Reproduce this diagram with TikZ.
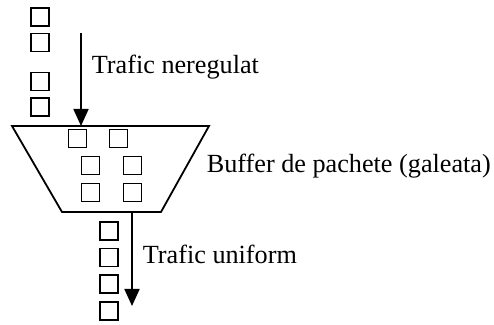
\documentclass[tikz,border=0pt]{standalone}
\usepackage{fontspec}
\setmainfont{Liberation Serif}
\usetikzlibrary{arrows.meta}
\tikzset{>={Triangle[width=7.5pt,length=8.5pt]}}
\tikzset{pkt/.style={draw, line width=0.9pt, minimum size=9pt, inner sep=0pt},
  lbl/.style={anchor=base west, inner sep=0pt}}

\begin{document}
\begin{tikzpicture}[x=0.5pt,y=-0.5pt,line width=0.9pt,font=\fontsize{13.1}{15}\selectfont]
\useasboundingbox (0,0) rectangle (494,325);
% galeata
\coordinate (tl) at (12,126);
\coordinate (tr) at (209,126);
\coordinate (br) at (161,212);
\coordinate (bl) at (62,212);
\draw (tl) -- (tr) -- (br) -- (bl) -- cycle;
% pachete
\foreach \n/\x/\y in {a/40/17, b/40/42.5, c/40/81.5, d/40/107,
  e/77.5/138.5, f/118.5/138.5, g/90.5/165.5, h/132.5/165.5, i/90.5/192.5, j/132.5/192.5,
  k/109/231, l/109/257.5, m/109/284, n/109/311}
  \node[pkt] (p\n) at (\x,\y) {};
% sageti
\coordinate (in) at (81,33);
\coordinate (inend) at (81,126);
\coordinate (out) at (132,212);
\coordinate (outend) at (132,306);
\draw[->] (in) -- (inend);
\draw[->] (out) -- (outend);
% texte
\node[lbl] (t1) at (91,74) {Trafic neregulat};
\node[lbl] (t2) at (206,173) {Buffer de pachete (galeata)};
\node[lbl] (t3) at (142,264) {Trafic uniform};
\end{tikzpicture}
\end{document}
